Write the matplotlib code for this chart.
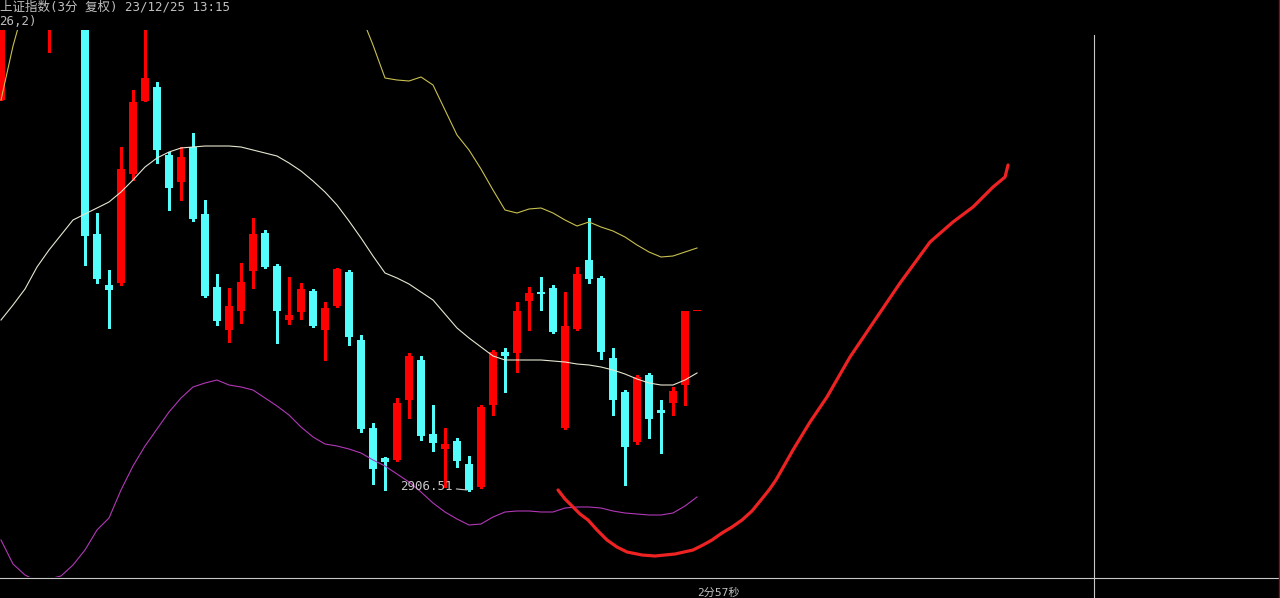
import numpy as np
import matplotlib
matplotlib.use("Agg")
import matplotlib.pyplot as plt
from matplotlib.lines import Line2D

# ------------------------------
# 1. Data (3-minute candles, Shanghai Composite)
# ------------------------------
opens = [2945.6, 2955.2, 2957.6, 2959.1, 2953.8, 2957.0, 2958.4, 2956.2, 2932.2, 2927.1,
         2927.3, 2938.2, 2945.5, 2946.9, 2940.1, 2937.4, 2940.9, 2934.2, 2926.9, 2922.6,
         2924.5, 2928.5, 2932.3, 2929.0, 2923.6, 2924.4, 2926.5, 2922.6, 2925.0, 2928.4,
         2921.6, 2912.8, 2909.8, 2909.6, 2915.6, 2919.6, 2912.2, 2910.7, 2911.5, 2909.2,
         2906.9, 2915.1, 2920.4, 2920.3, 2925.5, 2926.4, 2926.8, 2912.8, 2922.7, 2929.6,
         2927.8, 2919.8, 2916.4, 2911.4, 2918.1, 2914.6, 2915.3, 2917.1, 2924.5]
highs = [2956.5, 2958.4, 2960.3, 2959.8, 2958.2, 2959.5, 2959.0, 2957.0, 2934.3, 2928.6,
         2940.9, 2946.6, 2953.6, 2947.4, 2940.4, 2940.9, 2942.3, 2935.6, 2928.2, 2926.8,
         2929.3, 2933.8, 2932.6, 2929.2, 2927.9, 2927.3, 2926.7, 2925.4, 2928.8, 2928.6,
         2922.1, 2913.3, 2909.9, 2915.8, 2920.3, 2920.0, 2915.1, 2912.8, 2911.8, 2910.0,
         2915.1, 2920.6, 2920.8, 2925.4, 2926.9, 2927.9, 2927.1, 2926.4, 2928.9, 2933.8,
         2928.0, 2920.8, 2916.6, 2918.1, 2918.3, 2915.6, 2916.9, 2924.5, 2924.5]
lows = [2945.6, 2953.9, 2956.2, 2954.5, 2950.4, 2955.6, 2954.8, 2929.1, 2927.3, 2922.8,
        2927.1, 2937.6, 2945.5, 2939.3, 2934.6, 2935.6, 2933.5, 2925.9, 2923.1, 2921.4,
        2923.3, 2926.8, 2928.8, 2921.3, 2923.2, 2923.7, 2922.9, 2919.6, 2924.9, 2921.1,
        2912.4, 2907.2, 2906.6, 2909.5, 2913.8, 2911.6, 2910.5, 2906.9, 2908.9, 2906.5,
        2906.8, 2914.1, 2916.4, 2918.4, 2922.6, 2924.6, 2922.3, 2912.7, 2922.6, 2927.3,
        2919.7, 2914.1, 2907.1, 2911.2, 2911.8, 2910.3, 2914.1, 2915.1, 2924.5]
closes = [2955.2, 2957.6, 2959.1, 2955.3, 2957.0, 2958.4, 2956.2, 2932.0, 2927.7, 2926.6,
          2938.7, 2945.4, 2947.8, 2940.6, 2936.8, 2939.9, 2933.7, 2926.0, 2923.5, 2925.0,
          2927.4, 2932.2, 2928.9, 2924.5, 2924.1, 2926.7, 2923.0, 2924.8, 2928.7, 2921.9,
          2912.7, 2908.7, 2909.4, 2915.3, 2920.0, 2912.0, 2911.3, 2911.2, 2909.5, 2906.6,
          2914.9, 2920.4, 2920.0, 2924.5, 2926.3, 2926.2, 2922.4, 2923.0, 2928.2, 2927.7,
          2920.4, 2915.6, 2910.9, 2917.9, 2913.7, 2914.3, 2916.5, 2924.5, 2924.5]

# Bollinger band lines
boll_mid = [2923.6, 2925.1, 2926.7, 2928.9, 2930.6, 2932.1, 2933.6, 2934.2, 2934.8, 2935.4,
            2936.4, 2937.6, 2938.9, 2939.8, 2940.4, 2940.8, 2940.9, 2941.0, 2941.0, 2941.0,
            2940.9, 2940.6, 2940.3, 2940.0, 2939.3, 2938.5, 2937.5, 2936.4, 2935.1, 2933.5,
            2931.8, 2930.0, 2928.3, 2927.8, 2927.2, 2926.4, 2925.6, 2924.2, 2922.8, 2921.8,
            2920.9, 2920.0, 2919.6, 2919.6, 2919.6, 2919.6, 2919.5, 2919.4, 2919.2, 2919.1,
            2918.9, 2918.6, 2918.2, 2917.7, 2917.3, 2917.1, 2917.1, 2917.6, 2918.3]
boll_upper = [2945.6, 2951.0, 2955.3, 2960.2, 2963.6, 2966.3, 2968.3, 2968.0, 2967.3, 2966.4,
              2966.0, 2966.1, 2966.7, 2966.8, 2966.2, 2965.6, 2964.9, 2964.6, 2964.4, 2964.8,
              2965.2, 2965.3, 2965.3, 2965.4, 2964.8, 2964.2, 2963.1, 2961.6, 2959.2, 2956.4,
              2954.1, 2951.1, 2947.8, 2947.6, 2947.5, 2947.9, 2947.1, 2944.6, 2942.1, 2940.6,
              2938.7, 2936.6, 2934.6, 2934.3, 2934.7, 2934.8, 2934.3, 2933.6, 2933.0, 2933.4,
              2932.9, 2932.5, 2931.9, 2931.1, 2930.4, 2929.9, 2930.0, 2930.4, 2930.8]
boll_lower = [2901.6, 2899.2, 2898.1, 2897.5, 2897.7, 2898.0, 2899.1, 2900.6, 2902.6, 2903.8,
              2906.6, 2909.0, 2911.0, 2912.7, 2914.4, 2915.8, 2916.9, 2917.3, 2917.6, 2917.1,
              2916.9, 2916.6, 2915.8, 2915.0, 2914.1, 2912.9, 2911.9, 2911.2, 2911.0, 2910.7,
              2910.3, 2909.6, 2909.0, 2908.2, 2907.4, 2906.4, 2905.3, 2904.4, 2903.7, 2903.1,
              2903.2, 2903.9, 2904.4, 2904.5, 2904.5, 2904.4, 2904.4, 2904.8, 2904.9, 2904.9,
              2904.8, 2904.5, 2904.3, 2904.2, 2904.1, 2904.1, 2904.3, 2905.0, 2905.9]

# hand-drawn red "U" projection
stroke_x = [46.42, 47.0, 47.67, 48.25, 48.92, 49.67, 50.5, 51.33, 52.17, 53.42, 54.5, 55.33,
            56.17, 56.92, 57.67, 58.5, 59.25, 60.08, 60.92, 61.75, 62.58, 63.33, 64.0, 64.58,
            66.0, 67.42, 68.83, 70.75, 73.0, 74.92, 77.42, 79.33, 81.0, 82.67, 83.67, 83.92]
stroke_y = [2906.6, 2905.7, 2904.9, 2904.2, 2903.6, 2902.6, 2901.6, 2900.9, 2900.4, 2900.1,
            2900.0, 2900.1, 2900.2, 2900.4, 2900.6, 2901.1, 2901.6, 2902.3, 2902.9, 2903.6,
            2904.5, 2905.6, 2906.6, 2907.6, 2910.6, 2913.4, 2915.9, 2919.9, 2923.9, 2927.3,
            2931.4, 2933.4, 2934.9, 2936.9, 2937.9, 2939.1]

title_text = "上证指数(3分 复权) 23/12/25 13:15"
param_text = "26,2)"
low_label = "2906.51"
low_index = 39
timer_text = "2分57秒"

# ------------------------------
# 2. Figure layout
# ------------------------------
W, H = 1280, 598
fig = plt.figure(figsize=(W / 100, H / 100), dpi=100, facecolor="black")

# chart area in pixels: x 0..1093, y 30..577
ax = fig.add_axes([0, (H - 577) / H, 1093 / W, (577 - 30) / H])
ax.set_facecolor("black")
ax.set_xlim(-1 / 12, 1092 / 12)
ax.set_ylim(2897.9, 2952.6)
ax.axis("off")

RED = "#ff0000"
CYAN = "#54fcfc"

x = np.arange(len(opens))
o = np.array(opens)
c = np.array(closes)
up = c >= o
colors = np.where(up, RED, CYAN)
body_bottom = np.minimum(o, c)
body_height = np.maximum(np.abs(c - o), 0.1)

ax.vlines(x, lows, highs, colors=colors, linewidth=1.0, antialiased=False)
ax.bar(x, body_height, bottom=body_bottom, width=0.67, color=colors,
       linewidth=0, antialiased=False)

ax.plot(x, boll_mid, color="#e6e6d2", linewidth=0.8)
ax.plot(x, boll_upper, color="#c8c050", linewidth=0.8)
ax.plot(x, boll_lower, color="#b238b8", linewidth=0.8)

ax.plot(stroke_x, stroke_y, color="#ee2222", linewidth=2.3,
        solid_capstyle="round", solid_joinstyle="round")

ax.annotate(low_label, xy=(low_index - 0.15, lows[low_index] + 0.1),
            xytext=(-15, 4), textcoords="offset pixels",
            ha="right", va="center", color="#c8c8c8", fontsize=9,
            family=["DejaVu Sans Mono"],
            arrowprops=dict(arrowstyle="-", color="#c8c8c8", lw=0.8,
                            shrinkA=1, shrinkB=0))

# ------------------------------
# 3. Frame lines and header text
# ------------------------------
fig.add_artist(Line2D([0, 1], [(H - 577.5) / H] * 2, color="#c8c8c8", lw=0.8))
fig.add_artist(Line2D([1093.5 / W] * 2, [0, (H - 35) / H], color="#c8c8c8", lw=0.8))
fig.add_artist(Line2D([1278.5 / W] * 2, [0, 1], color="#8a1010", lw=1.0))

font_list = ["DejaVu Sans Mono", "Noto Sans CJK SC"]
fig.text(0, (H - 10) / H, title_text, color="#c0c0c0", fontsize=9,
         family=font_list, ha="left", va="baseline")
fig.text(-1 / W, (H - 25) / H, param_text, color="#c0c0c0", fontsize=9,
         family=font_list, ha="left", va="baseline")
fig.text(697 / W, 0.5 / H, timer_text, color="#c0c0c0", fontsize=8,
         family=font_list, ha="left", va="bottom")

fig.savefig("out.png", dpi=100, facecolor="black")
print("saved out.png")
